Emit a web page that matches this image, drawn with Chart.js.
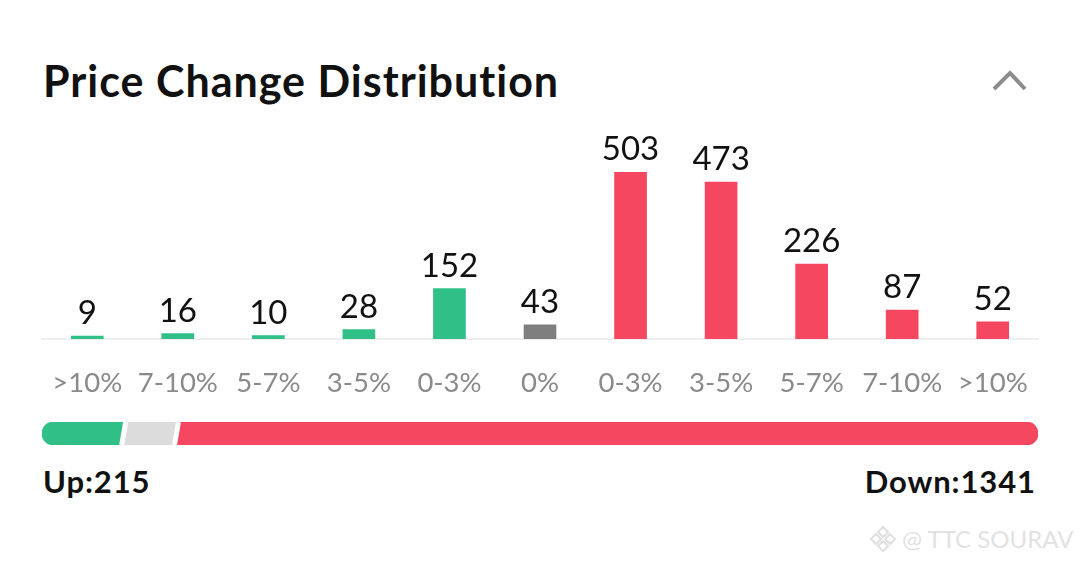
<!DOCTYPE html>
<html>
<head>
<meta charset="utf-8">
<title>Price Change Distribution</title>
<script src="https://cdn.jsdelivr.net/npm/chart.js@4"></script>
<style>
  html, body { margin: 0; padding: 0; background: #fff; }
  body { width: 1080px; height: 564px; position: relative; overflow: hidden; font-family: Lato, sans-serif; color: #111; }
  #title { position: absolute; left: 43px; top: 56px; font-size: 43px; line-height: 50px; font-weight: 700; letter-spacing: 1px; white-space: nowrap; }
  #chevron { position: absolute; left: 990px; top: 69px; }
  #dist-wrap { position: absolute; left: 0; top: 0; width: 1080px; height: 410px; }
  #ratio-wrap { position: absolute; left: 0; top: 414px; width: 1080px; height: 40px; }
  .total { position: absolute; top: 463px; font-size: 31px; line-height: 36px; font-weight: 700; white-space: nowrap; letter-spacing: .9px; }
  #up { left: 43px; }
  #down { right: 44px; }
  #mark { position: absolute; left: 869px; top: 523px; display: flex; align-items: center; color: #e2e2e2; font-size: 24px; line-height: 32px; white-space: nowrap; }
  #mark svg { margin-right: 5px; }
</style>
</head>
<body>
<div id="title"></div>
<svg id="chevron" width="40" height="28" viewBox="0 0 40 28">
  <polyline points="4,20 20,4 35,20" fill="none" stroke="#8c8c8c" stroke-width="4"/>
</svg>
<div id="dist-wrap"><canvas id="dist"></canvas></div>
<div id="ratio-wrap"><canvas id="ratio"></canvas></div>
<div class="total" id="up"></div>
<div class="total" id="down"></div>
<div id="mark">
  <svg width="28" height="28" viewBox="0 0 28 28" fill="none" stroke="#e0e0e0" stroke-width="2">
    <path d="M14 2l5 5-5 5-5-5zM7 9l5 5-5 5-5-5zM21 9l5 5-5 5-5-5zM14 16l5 5-5 5-5-5z"/>
  </svg>
  <span id="mark-text"></span>
</div>
<script>
const titleText = 'Price Change Distribution';
const bucketLabels = ['>10%', '7-10%', '5-7%', '3-5%', '0-3%', '0%', '0-3%', '3-5%', '5-7%', '7-10%', '>10%'];
const bucketCounts = [9, 16, 10, 28, 152, 43, 503, 473, 226, 87, 52];
const bucketColors = ['#2fbf87', '#2fbf87', '#2fbf87', '#2fbf87', '#2fbf87', '#7f7f7f', '#f5475f', '#f5475f', '#f5475f', '#f5475f', '#f5475f'];

// widths of the summary bar as drawn, not proportional to the counts
const ratioNames = ['Up', 'Flat', 'Down'];
const ratioShares = [8.2, 5.3, 86.5];
const ratioColors = ['#2fbf87', '#dcdcdc', '#f5475f'];

const upCount = 215;
const downCount = 1341;
const watermark = '@ TTC SOURAV';

document.getElementById('title').textContent = titleText;
document.getElementById('up').textContent = 'Up:' + upCount;
document.getElementById('down').textContent = 'Down:' + downCount;
document.getElementById('mark-text').textContent = watermark;

// count above each bar
const countLabels = {
  id: 'countLabels',
  afterDatasetsDraw(chart) {
    const ctx = chart.ctx;
    const bars = chart.getDatasetMeta(0).data;
    ctx.save();
    ctx.font = '400 33px Lato, sans-serif';
    ctx.fillStyle = '#111';
    ctx.textAlign = 'center';
    ctx.textBaseline = 'alphabetic';
    bars.forEach((bar, i) => {
      ctx.fillText(bucketCounts[i], bar.x, bar.y - 12);
    });
    ctx.restore();
  }
};

new Chart(document.getElementById('dist'), {
  type: 'bar',
  data: {
    labels: bucketLabels,
    datasets: [{
      data: bucketCounts,
      backgroundColor: bucketColors,
      barThickness: 32,
    }]
  },
  options: {
    responsive: true,
    maintainAspectRatio: false,
    animation: false,
    layout: { padding: { left: 42, right: 42, top: 172 } },
    plugins: { legend: { display: false }, tooltip: { enabled: false } },
    scales: {
      x: {
        afterFit(scale) { scale.height = 71; },
        grid: { display: false },
        border: { color: '#efefef', width: 2 },
        ticks: {
          color: '#8a8a8a',
          font: { family: 'Lato, sans-serif', size: 27.5 },
          padding: 20,
          maxRotation: 0,
          autoSkip: false,
        }
      },
      y: { display: false, min: 0, max: 503 }
    }
  },
  plugins: [countLabels]
});

// white slanted cuts between the summary bar segments
const slantCuts = {
  id: 'slantCuts',
  afterDatasetsDraw(chart) {
    const ctx = chart.ctx;
    const area = chart.chartArea;
    const x = chart.scales.x;
    let sum = 0;
    ctx.save();
    ctx.strokeStyle = '#fff';
    ctx.lineWidth = 5;
    ratioShares.slice(0, -1).forEach(share => {
      sum += share;
      const mid = x.getPixelForValue(sum);
      ctx.beginPath();
      ctx.moveTo(mid + 2, area.top);
      ctx.lineTo(mid - 2, area.bottom);
      ctx.stroke();
    });
    ctx.restore();
  }
};

new Chart(document.getElementById('ratio'), {
  type: 'bar',
  data: {
    labels: ['ratio'],
    datasets: ratioShares.map((share, i) => ({
      label: ratioNames[i],
      data: [share],
      backgroundColor: ratioColors[i],
      borderSkipped: false,
      borderRadius: i === 0
        ? { topLeft: 12, bottomLeft: 12, topRight: 0, bottomRight: 0 }
        : i === ratioShares.length - 1
          ? { topLeft: 0, bottomLeft: 0, topRight: 12, bottomRight: 12 }
          : 0,
      barPercentage: 1,
      categoryPercentage: 1,
    }))
  },
  options: {
    indexAxis: 'y',
    responsive: true,
    maintainAspectRatio: false,
    animation: false,
    layout: { padding: { left: 42, right: 42, top: 8, bottom: 9 } },
    plugins: { legend: { display: false }, tooltip: { enabled: false } },
    scales: {
      x: { display: false, stacked: true, min: 0, max: 100 },
      y: { display: false, stacked: true }
    }
  },
  plugins: [slantCuts]
});
</script>
</body>
</html>
